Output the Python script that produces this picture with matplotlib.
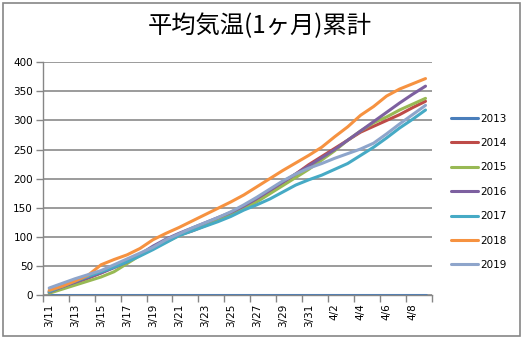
import matplotlib
matplotlib.use("Agg")
import matplotlib.pyplot as plt
from matplotlib.patches import Rectangle

plt.rcParams['font.family'] = ['DejaVu Sans', 'Noto Sans CJK JP']

# Dates 3/11 .. 4/9
dates = [f"3/{d}" for d in range(11, 32)] + [f"4/{d}" for d in range(1, 10)]

years = ["2013", "2014", "2015", "2016", "2017", "2018", "2019"]

cum_2013 = [0] * 30
cum_2014 = [5, 13, 21, 29, 38, 48, 58, 70, 82, 94, 103, 110, 119, 128, 138,
            150, 163, 178, 193, 208, 224, 238, 252, 266, 280, 290, 300, 310, 322, 333]
cum_2015 = [3, 10, 17, 24, 31, 40, 54, 68, 80, 91, 102, 112, 120, 128, 138,
            148, 160, 174, 188, 202, 216, 232, 248, 266, 282, 296, 306, 318, 328, 338]
cum_2016 = [5, 14, 22, 30, 38, 47, 57, 70, 84, 96, 106, 115, 124, 133, 142,
            153, 166, 180, 194, 208, 222, 236, 250, 266, 282, 298, 314, 330, 345, 359]
cum_2017 = [6, 15, 24, 32, 40, 48, 57, 67, 78, 90, 102, 110, 118, 126, 135,
            146, 155, 165, 177, 189, 198, 206, 216, 226, 240, 254, 270, 287, 302, 318]
cum_2018 = [8, 15, 24, 34, 52, 61, 69, 80, 95, 106, 116, 127, 138, 149, 160,
            172, 186, 200, 214, 227, 240, 254, 272, 289, 309, 324, 342, 354, 363, 372]
cum_2019 = [12, 20, 28, 35, 42, 52, 62, 72, 82, 95, 105, 115, 124, 133, 143,
            155, 168, 182, 196, 208, 218, 226, 235, 243, 251, 261, 277, 294, 310, 326]

series = [cum_2013, cum_2014, cum_2015, cum_2016, cum_2017, cum_2018, cum_2019]
colors = ["#4A7EBB", "#BE4B48", "#98B954", "#7D60A0", "#46AAC5", "#F69240", "#8EA5CB"]

fig = plt.figure(figsize=(5.23, 3.39), dpi=100)
fig.patch.set_facecolor("white")

# chart border
fig.add_artist(Rectangle((3 / 523, 3 / 339), 517 / 523, 333 / 339,
                         transform=fig.transFigure, fill=False,
                         edgecolor="#868686", linewidth=1.2))

ax = fig.add_axes([42.7 / 523, 1 - 295 / 339, (432 - 42.7) / 523, (295 - 62.3) / 339])

x = list(range(len(dates)))
handles = []
for vals, c, lab in zip(series, colors, years):
    ln, = ax.plot(x, vals, color=c, linewidth=2.2, label=lab, solid_capstyle="round")
    handles.append(ln)

ax.set_xlim(-0.5, len(dates) - 0.5)
ax.set_ylim(0, 400)
ax.set_yticks(range(0, 401, 50))
ax.grid(axis="y", color="#808080", linewidth=1.1)
ax.set_axisbelow(True)

# category labels every two days, tick marks on the group boundaries
ax.set_xticks(x[::2])
ax.set_xticklabels(dates[::2], rotation=90, fontsize=7.5)
ax.set_xticks([i - 0.5 for i in range(0, len(dates) + 1, 2)], minor=True)
ax.tick_params(axis="x", which="major", length=0, pad=6)
ax.tick_params(axis="x", which="minor", length=5, color="#868686", width=1)
ax.tick_params(axis="y", length=5, color="#868686", width=1, labelsize=7.5, pad=2)

for s in ["top", "right"]:
    ax.spines[s].set_visible(False)
for s in ["left", "bottom"]:
    ax.spines[s].set_color("#868686")
    ax.spines[s].set_linewidth(1)

fig.text(260 / 523, 1 - 26.5 / 339, "平均気温(1ヶ月)累計", ha="center", va="center",
         fontsize=17.5, family=["Noto Sans CJK JP", "DejaVu Sans"])

fig.legend(handles=handles, labels=years, loc="center left",
           bbox_to_anchor=(451 / 523, 1 - 191.8 / 339), frameon=False,
           fontsize=7.5, handlelength=2.6, handletextpad=0.2,
           labelspacing=1.38, borderpad=0, borderaxespad=0)

fig.savefig("out.png", dpi=100)
